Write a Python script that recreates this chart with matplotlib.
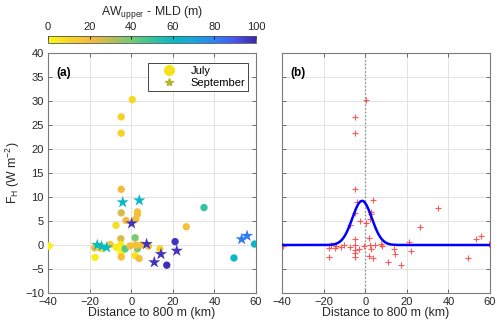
import numpy as np
import matplotlib
matplotlib.use("Agg")
import matplotlib.pyplot as plt
from matplotlib.colors import LinearSegmentedColormap, Normalize
from matplotlib.lines import Line2D

plt.rcParams['font.family'] = ['Liberation Sans', 'DejaVu Sans']

# July profiles: distance (km), heat flux (W m-2), AWupper - MLD (m)
jul_x = [-39.5, 0.5, -4.8, -4.8, -4.8, -4.8, -7.3, -2.5, 2.2, 3.0, 3.0, 35.0,
         26.5, 21.1, 17.1, 13.8, 8.3, 49.4, 59.3, -17.4, -17.6, -14.5, -10.1,
         -7.2, -5.0, -5.0, -4.8, -4.8, -4.8, -2.9, -0.6, 1.9, 3.0, 2.1, 1.8,
         3.8, 4.8]
jul_y = [-0.2, 30.3, 26.7, 23.3, 11.6, 6.7, 4.1, 5.1, 5.4, 6.9, 6.4, 7.8,
         3.8, 0.7, -4.2, -0.8, -0.2, -2.7, 0.2, -2.6, -0.6, -0.7, 0.1,
         -0.5, 1.3, 0.1, -1.0, -1.7, -2.5, -0.8, -0.2, 1.5, -0.8, 0.0, -2.2,
         -2.8, 0.0]
jul_c = [2, 10, 12, 12, 20, 25, 8, 20, 18, 18, 18, 50,
         18, 97, 98, 12, 18, 62, 62, 4, 18, 8, 15,
         5, 25, 5, 3, 3, 18, 45, 18, 38, 38, 18, 6,
         18, 18]

# September profiles
sep_x = [-4.1, 3.9, 0.2, 7.4, 11.1, 14.3, 21.9, 53.1, 55.7, -16.3, -14.2, -11.8]
sep_y = [8.9, 9.3, 4.5, 0.2, -3.6, -1.9, -1.2, 1.2, 1.9, 0.0, -0.3, -0.5]
sep_c = [62, 62, 97, 97, 97, 97, 97, 82, 82, 60, 58, 60]

# Gaussian fit parameters for panel (b)
fit_amp = 9.2
fit_mu = -1.5
fit_sigma = 4.7

# parula colormap, reversed (yellow at 0)
parula = [(0.2422, 0.1504, 0.6603), (0.2760, 0.3290, 0.9650), (0.1700, 0.5200, 0.9500),
          (0.0800, 0.6600, 0.8600), (0.0300, 0.7300, 0.7600), (0.2000, 0.7700, 0.6200),
          (0.4500, 0.7900, 0.4600), (0.7400, 0.7400, 0.3300), (0.9600, 0.7300, 0.2300),
          (0.9700, 0.8400, 0.1500), (0.9769, 0.9839, 0.0805)]
cmap = LinearSegmentedColormap.from_list('parula_r', parula[::-1])
norm = Normalize(0, 100)

fig = plt.figure(figsize=(5, 3.29), dpi=100)
ax1 = fig.add_axes([0.096, 0.1094, 0.416, 0.7295])
ax2 = fig.add_axes([0.564, 0.1094, 0.416, 0.7295])
cax = fig.add_axes([0.096, 0.869, 0.416, 0.0213])

def style_axes(ax):
    ax.set_xlim(-40, 60)
    ax.set_ylim(-10, 40)
    ax.set_xticks(np.arange(-40, 61, 20))
    ax.set_yticks(np.arange(-10, 41, 5))
    ax.grid(True, color='#e3e3e3', linewidth=0.7)
    ax.set_axisbelow(True)
    ax.tick_params(direction='in', top=True, right=True, length=3, width=0.6,
                   color='#555555', labelsize=8, labelcolor='#262626', pad=3)
    for s in ax.spines.values():
        s.set_color('#7a7a7a')
        s.set_linewidth(0.8)
    ax.set_xlabel('Distance to 800 m (km)', fontsize=8.8, color='#262626', labelpad=0)

# panel (a)
style_axes(ax1)
ax1.scatter(jul_x, jul_y, c=jul_c, cmap=cmap, norm=norm, s=28, marker='o',
            edgecolors='none', zorder=3)
ax1.scatter(sep_x, sep_y, c=sep_c, cmap=cmap, norm=norm, s=85, marker='*',
            edgecolors='none', zorder=4)
ax1.set_ylabel('F$_\\mathregular{H}$ (W m$^\\mathregular{-2}$)', fontsize=8.8,
               color='#262626', labelpad=2)
ax1.text(0.04, 0.94, '(a)', transform=ax1.transAxes, fontsize=8.5,
         fontweight='bold', va='top', ha='left')
handles = [Line2D([], [], marker='o', linestyle='none', color='#f6e21a',
                  markersize=7),
           Line2D([], [], marker='*', linestyle='none', color='#b5b530',
                  markersize=6)]
leg = ax1.legend(handles, ['July', 'September'], loc='upper right',
                 bbox_to_anchor=(0.962, 0.958), borderaxespad=0, fontsize=8,
                 fancybox=False, framealpha=1, edgecolor='#444444',
                 handletextpad=0.2, borderpad=0.25, labelspacing=0.2,
                 handlelength=3.4)
leg.get_frame().set_linewidth(0.7)

# panel (b)
style_axes(ax2)
ax2.set_yticklabels([])
all_x = np.array(jul_x + sep_x)
all_y = np.array(jul_y + sep_y)
ax2.axvline(0, color='#8c8c8c', linestyle=':', linewidth=1.0, zorder=2)
ax2.plot(all_x, all_y, '+', color='#ff3b3b', markersize=5, markeredgewidth=0.8,
         alpha=0.85, zorder=3)
xf = np.linspace(-40, 60, 400)
ax2.plot(xf, fit_amp * np.exp(-0.5 * ((xf - fit_mu) / fit_sigma) ** 2),
         color='#0000ff', linewidth=1.8, zorder=4)
ax2.text(0.04, 0.94, '(b)', transform=ax2.transAxes, fontsize=8.5,
         fontweight='bold', va='top', ha='left')

# colorbar
cb = fig.colorbar(plt.cm.ScalarMappable(norm=norm, cmap=cmap), cax=cax,
                  orientation='horizontal')
cb.set_ticks([0, 20, 40, 60, 80, 100])
cax.xaxis.set_ticks_position('top')
cax.xaxis.set_label_position('top')
cax.tick_params(direction='in', length=2, width=0.6, labelsize=8,
                labelcolor='#262626', pad=3)
cb.outline.set_edgecolor('#555555')
cb.outline.set_linewidth(0.6)
cb.set_label('AW$_\\mathregular{upper}$ - MLD (m)', fontsize=8.8, color='#262626',
             labelpad=5)

fig.savefig('out.png', dpi=100)
